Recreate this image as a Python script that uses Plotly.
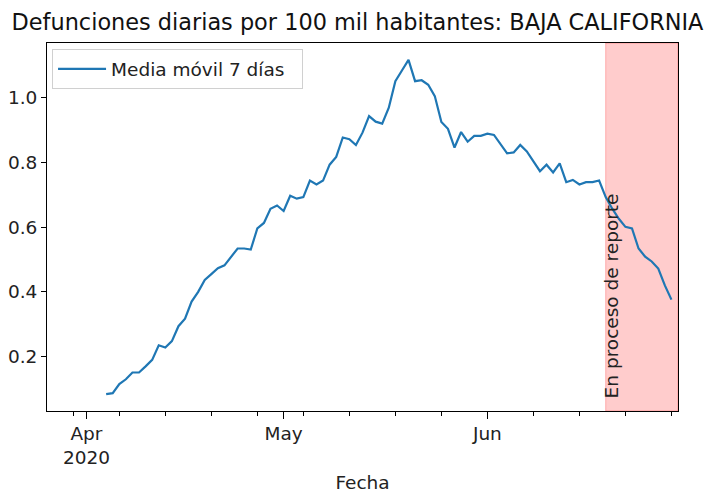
import pandas as pd
import plotly.graph_objects as go

# Data: 7-day moving average of daily deaths per 100k, Baja California
start_date = "2020-04-04"
values = [
    0.084, 0.087, 0.115, 0.130, 0.151, 0.151, 0.170, 0.190, 0.235, 0.228,
    0.248, 0.294, 0.317, 0.370, 0.400, 0.437, 0.455, 0.473, 0.482, 0.507,
    0.534, 0.534, 0.531, 0.596, 0.613, 0.657, 0.667, 0.650, 0.697, 0.688,
    0.693, 0.744, 0.732, 0.744, 0.793, 0.817, 0.877, 0.872, 0.854, 0.892,
    0.943, 0.926, 0.920, 0.969, 1.051, 1.084, 1.117, 1.051, 1.054, 1.040,
    1.005, 0.925, 0.904, 0.846, 0.894, 0.864, 0.882, 0.882, 0.889, 0.885,
    0.856, 0.828, 0.831, 0.854, 0.834, 0.805, 0.773, 0.793, 0.769, 0.797,
    0.739, 0.746, 0.732, 0.739, 0.739, 0.744, 0.693, 0.657, 0.626, 0.601,
    0.596, 0.534, 0.509, 0.494, 0.472, 0.420, 0.376,
]
dates = pd.date_range(start_date, periods=len(values), freq="D")

x_range = ["2020-03-26", "2020-06-30"]
report_span = ["2020-06-19", "2020-06-30"]
major_tickvals = ["2020-04-01", "2020-05-01", "2020-06-01"]
major_ticktext = ["Apr<br>2020", "May", "Jun"]
y_tickvals = [0.2, 0.4, 0.6, 0.8, 1.0]

title = "Defunciones diarias por 100 mil habitantes: BAJA CALIFORNIA"
series_name = "Media móvil 7 días"
span_label = "En proceso de reporte"

FONT = "DejaVu Sans"
FS = 18.5
TFS = 22.4

fig = go.Figure()
fig.add_vrect(x0=report_span[0], x1=report_span[1], fillcolor="rgba(255,0,0,0.2)",
              line=dict(color="rgba(255,0,0,0.25)", width=1), layer="below")
fig.add_trace(go.Scatter(x=dates, y=values, mode="lines", name=series_name + "\u00a0\u00a0",
                         line=dict(color="#1f77b4", width=2.2)))
fig.add_annotation(x=report_span[0], y=0.07, xref="x", yref="y", text=span_label,
                   textangle=-90, showarrow=False, xanchor="left", yanchor="bottom",
                   font=dict(family=FONT, size=FS, color="#222"), xshift=-7, yshift=-2)

# The page body keeps an 8px margin, so the figure is 8px smaller than the window
fig.update_layout(
    width=707, height=485,
    margin=dict(l=39, r=37, t=35, b=82, autoexpand=False),
    paper_bgcolor="white", plot_bgcolor="white",
    font=dict(family=FONT, size=FS, color="#222"),
    title=dict(text=title, x=0.4943, xref="container", xanchor="center",
               y=1 - 6.5 / 485, yref="container", yanchor="top",
               font=dict(family=FONT, size=TFS, color="#111")),
    showlegend=True,
    legend=dict(x=0.008, y=0.983, xanchor="left", yanchor="top", itemwidth=48,
                bgcolor="rgba(255,255,255,0.8)", bordercolor="#d0d0d0", borderwidth=1,
                font=dict(family=FONT, size=FS, color="#222")),
)
fig.update_xaxes(
    range=x_range, showgrid=False, zeroline=False, automargin=False,
    showline=True, linecolor="black", linewidth=1, mirror=True,
    tickmode="array", tickvals=major_tickvals, ticktext=major_ticktext,
    ticks="outside", ticklen=7, tickcolor="black", tickwidth=1, ticklabelstandoff=-1,
    minor=dict(tickmode="linear", tick0="2020-03-30", dtick=7 * 86400000,
               ticks="outside", ticklen=4, tickcolor="black", tickwidth=1, showgrid=False),
    title=dict(text="Fecha", font=dict(family=FONT, size=FS, color="#222"), standoff=18),
)
fig.update_yaxes(
    range=[0.032, 1.169], showgrid=False, zeroline=False, automargin=False,
    showline=True, linecolor="black", linewidth=1, mirror=True,
    tickmode="array", tickvals=y_tickvals, tickformat=".1f",
    ticks="outside", ticklen=5, tickcolor="black", tickwidth=1,
)

fig.write_html("out.html")
